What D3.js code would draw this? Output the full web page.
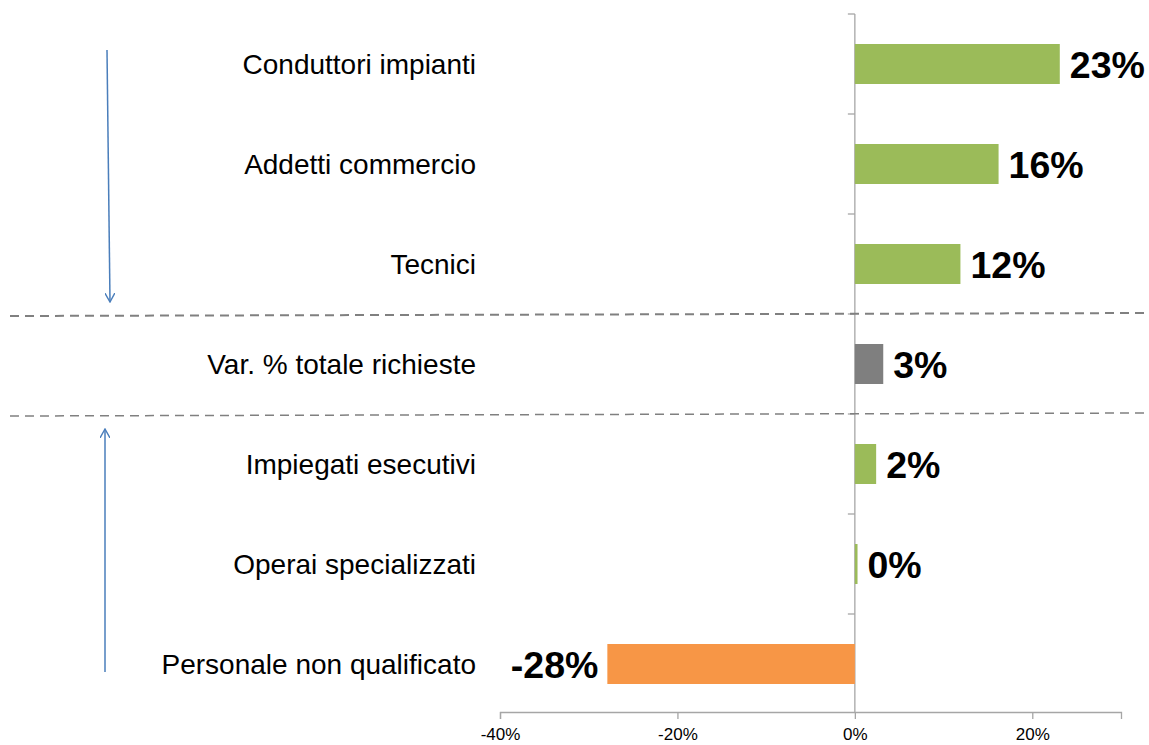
<!DOCTYPE html>
<html>
<head>
<meta charset="utf-8">
<script src="https://cdn.jsdelivr.net/npm/d3@7"></script>
<style>
  body { margin: 0; background: #fff; }
  svg { display: block; font-family: Arial, "Liberation Sans", sans-serif; }
</style>
</head>
<body>
<div id="chart"></div>
<script>
const categories = [
  "Conduttori impianti",
  "Addetti commercio",
  "Tecnici",
  "Var. % totale richieste",
  "Impiegati esecutivi",
  "Operai specializzati",
  "Personale non qualificato"
];
const values = [23.1, 16.2, 11.9, 3.2, 2.4, 0.3, -27.9];
const barColors = ["#9bbb59", "#9bbb59", "#9bbb59", "#7f7f7f", "#9bbb59", "#9bbb59", "#f79646"];
const xTicks = [-40, -20, 0, 20];

const W = 1149, H = 745;
const svg = d3.select("#chart").append("svg")
  .attr("width", W)
  .attr("height", H);

const x = d3.scaleLinear().domain([-40, 30]).range([500, 1121]);
const y = d3.scaleBand().domain(categories).range([14, 714])
  .paddingInner(0.6).paddingOuter(0.3);
const axisColor = "#a6a6a6";

// x axis
const xAxis = svg.append("g")
  .attr("transform", "translate(0,712)")
  .call(d3.axisBottom(x).tickValues(xTicks).tickSizeOuter(0).tickSize(7)
    .tickFormat(d => d + "%"));
xAxis.select(".domain").attr("stroke", axisColor).attr("stroke-width", 1.3);
xAxis.selectAll(".tick line").attr("stroke", axisColor).attr("stroke-width", 1.3);
xAxis.selectAll(".tick text").attr("font-size", 17).attr("fill", "#000")
  .attr("font-family", "Arial, 'Liberation Sans', sans-serif").attr("dy", "1.05em");

// y axis at 0 with ticks on category boundaries
const step = y.step();
const bounds = d3.range(categories.length + 1).map(i => y.range()[0] + i * step);
svg.append("line")
  .attr("x1", x(0)).attr("x2", x(0))
  .attr("y1", bounds[0]).attr("y2", 712)
  .attr("stroke", axisColor).attr("stroke-width", 1.3);
svg.selectAll(".ytick").data(bounds.slice(0, -1)).join("line")
  .attr("class", "ytick")
  .attr("x1", x(0) - 7).attr("x2", x(0))
  .attr("y1", d => d).attr("y2", d => d)
  .attr("stroke", axisColor).attr("stroke-width", 1.3);

// bars
svg.selectAll(".bar").data(values).join("rect")
  .attr("class", "bar")
  .attr("x", d => x(Math.min(0, d)))
  .attr("width", d => Math.abs(x(d) - x(0)))
  .attr("y", (d, i) => y(categories[i]))
  .attr("height", y.bandwidth())
  .attr("fill", (d, i) => barColors[i]);

// value labels
svg.selectAll(".val").data(values).join("text")
  .attr("class", "val")
  .attr("x", d => d >= 0 ? x(d) + 10 : x(d) - 9)
  .attr("y", (d, i) => y(categories[i]) + y.bandwidth() / 2)
  .attr("dy", "0.37em")
  .attr("text-anchor", d => d >= 0 ? "start" : "end")
  .attr("font-size", 37.5)
  .attr("font-weight", "bold")
  .attr("fill", "#000")
  .text(d => Math.round(d) + "%");

// category labels
svg.selectAll(".cat").data(categories).join("text")
  .attr("class", "cat")
  .attr("x", 476)
  .attr("y", d => y(d) + y.bandwidth() / 2)
  .attr("dy", "0.36em")
  .attr("text-anchor", "end")
  .attr("font-size", 28)
  .attr("fill", "#000")
  .text(d => d);

// dashed separators around the total row
const totalIdx = categories.indexOf("Var. % totale richieste");
[[bounds[totalIdx], 2], [bounds[totalIdx + 1], 1.5]].forEach(([b, sw]) => {
  svg.append("line")
    .attr("x1", 10).attr("x2", W)
    .attr("y1", b + 2).attr("y2", b - 1)
    .attr("stroke", "#808080")
    .attr("stroke-width", sw)
    .attr("stroke-dasharray", "9,6");
});

// arrows
svg.append("defs").append("marker")
  .attr("id", "arr")
  .attr("viewBox", "0 0 10 10")
  .attr("refX", 9).attr("refY", 5)
  .attr("markerWidth", 10).attr("markerHeight", 10)
  .attr("markerUnits", "userSpaceOnUse")
  .attr("orient", "auto")
  .append("path")
  .attr("d", "M0,0 L9,5 L0,10")
  .attr("fill", "none")
  .attr("stroke", "#4a7ebb")
  .attr("stroke-width", 1.4);

svg.append("line")
  .attr("x1", 107).attr("y1", y(categories[0]) + 6)
  .attr("x2", 110).attr("y2", bounds[totalIdx] - 12)
  .attr("stroke", "#4a7ebb").attr("stroke-width", 1.5)
  .attr("marker-end", "url(#arr)");
svg.append("line")
  .attr("x1", 105).attr("y1", y(categories[categories.length - 1]) + 28)
  .attr("x2", 105).attr("y2", bounds[totalIdx + 1] + 15)
  .attr("stroke", "#4a7ebb").attr("stroke-width", 1.5)
  .attr("marker-end", "url(#arr)");
</script>
</body>
</html>
